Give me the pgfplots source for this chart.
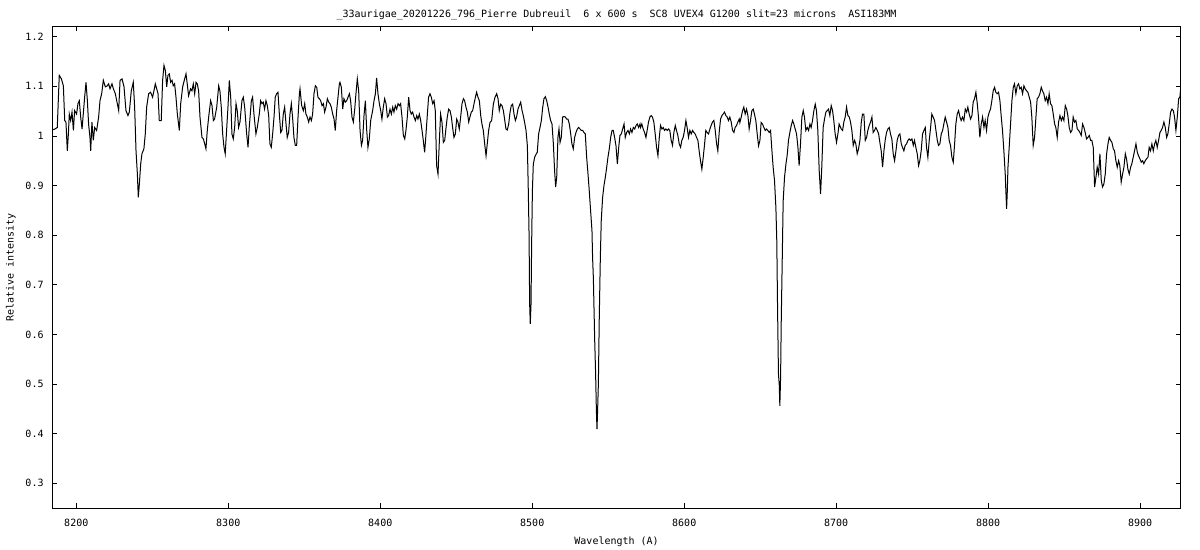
\documentclass[border=0pt]{standalone}
\usepackage{fontspec}
\setmainfont{DejaVu Sans Mono}
\usepackage{pgfplots}
\pgfplotsset{compat=1.18}
\newcommand{\gf}{\fontsize{7.5pt}{9pt}\selectfont}
\begin{document}
\begin{tikzpicture}
\useasboundingbox (-39.2pt,-31.3pt) rectangle (860.8pt,381.2pt);
\begin{axis}[
  at={(0,0)}, anchor=south west,
  scale only axis, width=846.5pt, height=361.2pt,
  xmin=8184.2, xmax=8926.8, ymin=0.2496, ymax=1.2202,
  axis line style={line width=0.75pt},
  tick style={line width=0.6pt, black},
  tick align=inside, major tick length=3.6pt,
  xtick={8200,8300,8400,8500,8600,8700,8800,8900},
  xticklabels={8200,8300,8400,8500,8600,8700,8800,8900},
  ytick={0.3,0.4,0.5,0.6,0.7,0.8,0.9,1,1.1,1.2},
  yticklabels={0.3,0.4,0.5,0.6,0.7,0.8,0.9,1,1.1,1.2},
  ticklabel style={font=\gf},
  xticklabel style={yshift=-4.5pt},
  yticklabel style={xshift=-3pt},
  minor tick num=0,
  title={\_33aurigae\_20201226\_796\_Pierre Dubreuil\ \ 6 x 600 s\ \ SC8 UVEX4 G1200 slit=23 microns\ \ ASI183MM},
  title style={font=\gf, at={(axis description cs:0.5,1.003)}, anchor=base},
  xlabel={Wavelength (A)},
  xlabel style={font=\gf, at={(axis description cs:0.5,-0.0762)}, anchor=base},
  ylabel={Relative intensity},
  ylabel style={font=\gf, at={(axis description cs:-0.0366,0.5)}, anchor=center, rotate=0},
]
\addplot[black, line width=0.75pt] coordinates {
(8184.2,1.012) (8186.0,1.014) (8187.5,1.017) (8188.8,1.122) (8190.2,1.115) (8191.5,1.101) (8192.4,1.031) (8193.2,1.028)
(8194.1,0.970) (8194.8,1.004) (8195.4,1.044) (8196.3,1.031) (8197.2,1.048) (8198.1,1.011) (8198.9,1.051) (8200.2,1.044)
(8201.1,1.065) (8202.0,1.071) (8202.9,1.038) (8203.8,1.014) (8204.6,1.044) (8205.5,1.078) (8206.4,1.108) (8207.3,1.071)
(8208.1,1.024) (8209.0,0.997) (8209.5,0.970) (8210.3,1.028) (8211.2,0.991) (8212.1,1.017) (8213.4,1.011) (8214.7,1.038)
(8215.6,1.071) (8216.7,1.085) (8217.8,1.112) (8219.1,1.099) (8220.4,1.101) (8221.3,1.105) (8222.2,1.095) (8223.5,1.105)
(8224.4,1.095) (8225.7,1.085) (8226.6,1.071) (8227.9,1.051) (8228.8,1.112) (8230.1,1.115) (8231.4,1.099) (8232.7,1.051)
(8234.0,1.041) (8234.9,1.048) (8236.2,1.091) (8237.5,1.108) (8238.4,1.058) (8239.3,0.970) (8240.2,0.923) (8240.8,0.876)
(8241.5,0.903) (8242.4,0.944) (8243.2,0.964) (8244.5,0.974) (8245.4,1.004) (8246.3,1.058) (8247.6,1.085) (8248.9,1.088)
(8250.2,1.078) (8251.1,1.091) (8252.0,1.105) (8252.9,1.095) (8253.8,1.085) (8254.6,1.031) (8255.9,1.031) (8256.8,1.112)
(8257.7,1.142) (8258.6,1.132) (8259.5,1.099) (8260.3,1.122) (8261.2,1.125) (8262.1,1.108) (8263.0,1.112) (8263.8,1.101)
(8264.7,1.105) (8265.6,1.078) (8266.5,1.044) (8267.8,1.011) (8268.7,1.065) (8270.0,1.099) (8271.3,1.115) (8272.2,1.125)
(8273.0,1.105) (8273.9,1.081) (8275.2,1.095) (8276.1,1.091) (8277.0,1.105) (8277.9,1.085) (8278.8,1.108) (8279.6,1.105)
(8280.5,1.091) (8281.4,1.038) (8282.7,0.997) (8283.6,0.994) (8284.5,0.984) (8285.3,0.974) (8286.2,1.011) (8287.1,1.038)
(8288.4,1.071) (8289.3,1.061) (8290.2,1.031) (8291.0,1.034) (8292.4,1.058) (8293.7,1.101) (8294.5,1.091) (8295.4,1.058)
(8296.3,1.004) (8297.2,0.977) (8298.0,0.964) (8298.9,1.011) (8299.8,1.058) (8300.7,1.112) (8301.6,1.078) (8302.4,1.004)
(8303.3,0.994) (8304.2,1.017) (8305.1,1.065) (8305.9,1.051) (8306.8,1.017) (8307.7,1.028) (8309.0,1.071) (8309.9,1.078)
(8310.8,1.058) (8312.1,1.004) (8313.0,0.977) (8313.8,1.017) (8315.2,1.071) (8316.0,1.078) (8316.9,1.044) (8318.2,1.004)
(8319.1,1.017) (8320.4,1.044) (8321.3,1.071) (8322.2,1.065) (8323.0,1.068) (8323.9,1.054) (8324.8,1.071) (8325.7,1.061)
(8326.6,1.041) (8327.4,0.984) (8328.3,0.977) (8329.2,1.004) (8330.1,1.038) (8330.9,1.078) (8331.8,1.085) (8332.7,1.088)
(8333.6,1.044) (8334.5,1.007) (8335.3,1.011) (8336.2,1.044) (8337.1,1.058) (8338.0,1.024) (8338.8,0.997) (8339.7,1.007)
(8340.6,1.044) (8341.5,1.065) (8342.4,1.034) (8343.2,0.997) (8344.1,0.981) (8345.0,0.981) (8345.9,1.038) (8346.8,1.085)
(8347.2,1.095) (8348.3,1.061) (8349.4,1.051) (8350.3,1.065) (8351.1,1.044) (8352.0,1.038) (8352.9,1.028) (8353.8,1.038)
(8354.7,1.031) (8355.5,1.044) (8356.4,1.085) (8357.3,1.101) (8358.2,1.098) (8359.0,1.078) (8359.9,1.075) (8360.8,1.071)
(8361.7,1.061) (8362.6,1.065) (8363.4,1.048) (8364.3,1.058) (8365.2,1.075) (8366.1,1.068) (8366.9,1.065) (8367.8,1.058)
(8368.7,1.044) (8369.6,1.034) (8370.4,1.011) (8371.3,1.051) (8372.2,1.078) (8373.1,1.105) (8373.5,1.108) (8374.4,1.098)
(8375.3,1.054) (8376.1,1.075) (8377.0,1.068) (8377.9,1.071) (8378.8,1.078) (8379.7,1.085) (8380.5,1.071) (8381.4,1.038)
(8382.3,1.028) (8383.2,1.054) (8384.0,1.085) (8384.9,1.115) (8385.8,1.091) (8386.7,1.011) (8387.6,0.981) (8388.4,0.991)
(8389.3,1.041) (8390.2,1.071) (8391.1,1.011) (8391.9,0.977) (8392.8,0.994) (8393.7,1.031) (8395.0,1.051) (8395.9,1.071)
(8396.8,1.085) (8397.6,1.117) (8398.5,1.085) (8399.4,1.065) (8400.3,1.051) (8401.1,1.034) (8402.0,1.058) (8402.9,1.075)
(8403.8,1.065) (8404.7,1.038) (8405.5,1.041) (8406.4,1.054) (8407.3,1.044) (8408.2,1.058) (8409.0,1.048) (8409.9,1.061)
(8410.8,1.054) (8411.7,1.065) (8412.6,1.061) (8413.4,1.065) (8414.3,1.038) (8415.2,1.001) (8416.1,0.994) (8416.9,1.011)
(8417.8,1.038) (8418.7,1.078) (8419.6,1.051) (8420.4,1.044) (8421.3,1.048) (8422.2,1.038) (8423.1,1.031) (8424.0,1.041)
(8424.8,1.034) (8425.7,1.044) (8426.6,1.031) (8427.5,1.011) (8428.3,0.991) (8429.2,0.967) (8430.1,1.004) (8431.0,1.044)
(8431.8,1.078) (8432.7,1.085) (8433.6,1.078) (8434.5,1.065) (8435.4,1.071) (8436.2,1.051) (8437.1,0.940) (8438.0,0.923)
(8438.9,0.991) (8439.7,1.044) (8440.6,1.028) (8441.5,0.987) (8442.4,0.991) (8443.3,1.017) (8444.1,1.038) (8445.0,1.054)
(8445.9,1.051) (8446.8,1.038) (8447.6,1.017) (8448.5,0.997) (8449.4,1.004) (8450.3,1.034) (8451.1,1.028) (8452.0,1.014)
(8452.9,1.038) (8453.8,1.065) (8454.7,1.075) (8455.5,1.071) (8456.4,1.058) (8457.3,1.048) (8458.2,1.028) (8459.0,1.038)
(8459.9,1.048) (8460.8,1.051) (8461.7,1.065) (8462.6,1.078) (8463.4,1.088) (8464.3,1.078) (8465.2,1.071) (8466.1,1.041)
(8466.9,1.024) (8467.8,1.011) (8468.7,0.984) (8469.6,0.960) (8470.4,0.984) (8471.3,1.011)
(8472.2,1.027) (8473.3,1.031) (8474.4,1.064) (8475.5,1.078) (8476.6,1.085) (8477.5,1.075) (8478.3,1.051) (8479.2,1.064)
(8480.1,1.061) (8481.0,1.051) (8481.8,1.034) (8482.7,1.014) (8483.6,1.012) (8484.5,1.024) (8485.4,1.048) (8486.2,1.061)
(8487.1,1.064) (8488.0,1.044) (8488.9,1.031) (8489.7,1.038) (8490.6,1.054) (8491.5,1.061) (8492.4,1.068) (8493.3,1.051)
(8494.1,1.041) (8495.0,1.027) (8495.9,1.011) (8496.8,0.980) (8497.4,0.890) (8497.9,0.802) (8498.3,0.661) (8498.7,0.621)
(8499.2,0.661) (8499.6,0.782) (8500.1,0.890) (8500.7,0.943) (8501.6,0.957) (8502.5,0.963) (8503.3,0.967) (8504.2,1.004)
(8505.1,1.017) (8506.0,1.031) (8506.9,1.058) (8507.7,1.075) (8508.6,1.079) (8509.5,1.071) (8510.4,1.058) (8511.2,1.044)
(8512.1,1.031) (8513.0,1.024) (8513.9,0.984) (8514.7,0.930) (8515.4,0.897) (8516.1,0.917) (8516.9,0.997) (8517.6,1.014)
(8518.3,0.987) (8519.1,0.997) (8520.0,1.038) (8520.9,1.039) (8521.8,1.038) (8522.6,1.034) (8523.5,1.034) (8524.4,1.024)
(8525.3,1.004) (8526.1,0.984) (8527.0,0.974) (8527.9,0.997) (8528.8,1.007) (8529.7,1.014) (8530.5,1.017) (8531.4,1.014)
(8532.3,1.011) (8533.2,1.011) (8534.0,1.007) (8534.9,1.004) (8535.8,0.957) (8536.7,0.923) (8537.5,0.890) (8538.4,0.849)
(8539.3,0.809) (8539.7,0.755) (8540.2,0.715) (8541.1,0.587) (8541.7,0.520) (8542.2,0.446) (8542.6,0.409) (8543.0,0.446)
(8543.5,0.500) (8544.1,0.634) (8544.8,0.755) (8545.4,0.829) (8546.3,0.876) (8547.2,0.900) (8548.1,0.917) (8549.0,0.937)
(8549.8,0.957) (8550.7,0.974) (8551.6,0.997) (8552.5,1.011) (8553.3,1.011) (8554.2,0.997) (8555.1,0.980) (8556.0,0.943)
(8556.9,0.977) (8557.7,1.001) (8558.6,1.004) (8559.5,1.014) (8560.4,1.024) (8561.2,0.997) (8562.1,1.007) (8563.0,1.011)
(8563.9,1.004) (8564.7,1.014) (8565.6,1.007) (8566.5,1.017) (8567.4,1.014) (8568.3,1.021) (8569.1,1.024) (8570.0,1.017)
(8570.9,1.024)
(8571.3,1.017) (8572.1,1.024) (8573.0,1.014) (8573.9,1.007) (8574.8,0.997) (8575.6,1.011) (8576.5,1.028) (8577.4,1.038)
(8578.3,1.041) (8579.1,1.038) (8580.0,1.028) (8580.9,1.004) (8581.8,0.977) (8582.7,0.960) (8583.5,0.994) (8584.4,1.021)
(8585.3,1.014) (8586.2,1.017) (8587.0,1.011) (8587.9,1.014) (8588.8,1.011) (8589.7,1.014) (8590.5,1.011) (8591.4,0.991)
(8592.3,0.981) (8593.2,1.007) (8594.1,1.021) (8594.9,1.011) (8595.8,1.001) (8596.7,0.984) (8597.6,0.977) (8598.4,0.991)
(8599.3,0.997) (8600.2,1.011) (8601.1,1.031) (8601.9,1.017) (8602.8,0.997) (8603.7,1.011) (8604.6,1.004) (8605.5,1.011)
(8606.3,1.007) (8607.2,1.004) (8608.1,0.997) (8609.0,0.991) (8609.8,0.970) (8610.7,0.950) (8611.6,0.933) (8612.5,0.957)
(8613.4,0.984) (8614.2,1.011) (8615.1,1.007) (8616.0,1.004) (8616.9,1.014) (8617.7,1.021) (8618.6,1.028) (8619.5,1.031)
(8620.4,1.011) (8621.3,0.984) (8622.1,0.970) (8623.0,1.007) (8623.9,1.034) (8624.8,1.041) (8625.6,1.044) (8626.5,1.048)
(8627.4,1.041) (8628.3,1.038) (8629.1,1.031) (8630.0,1.038) (8630.9,1.028) (8631.8,1.011) (8632.7,1.007) (8633.5,1.017)
(8634.4,1.021) (8635.3,1.028) (8636.2,1.034)
(8636.6,1.027) (8637.5,1.038) (8638.4,1.051) (8639.2,1.058) (8640.1,1.044) (8641.0,1.054) (8641.9,1.041) (8642.7,1.014)
(8643.6,1.031) (8644.5,1.051) (8645.4,1.054) (8646.2,1.044) (8647.1,1.031) (8648.0,1.004) (8648.9,0.980) (8649.8,0.991)
(8650.6,1.027) (8651.5,1.024) (8652.4,1.017) (8653.3,1.011) (8654.1,1.014) (8655.0,1.011) (8655.9,1.007) (8656.8,1.011)
(8657.7,0.970) (8658.5,0.937) (8659.4,0.910) (8660.3,0.856) (8660.9,0.788) (8661.4,0.654) (8662.0,0.520) (8662.5,0.500)
(8662.9,0.456) (8663.4,0.513) (8663.8,0.621) (8664.5,0.755) (8665.1,0.869) (8666.0,0.917) (8666.9,0.943) (8667.7,0.960)
(8668.6,0.991) (8669.5,1.007) (8670.4,1.021) (8671.3,1.031) (8672.1,1.024) (8673.0,1.014) (8673.9,1.004) (8674.8,0.977)
(8675.6,0.940) (8676.5,0.984) (8677.4,1.038) (8678.3,1.051) (8679.1,1.038) (8680.0,1.011) (8680.9,1.017) (8681.8,1.011)
(8682.7,1.024) (8683.5,1.017) (8684.4,1.031) (8685.3,1.051) (8686.2,1.064) (8687.0,1.051) (8687.9,1.011) (8688.8,0.930)
(8689.7,0.883) (8690.5,0.937) (8691.4,1.017) (8692.3,1.034) (8693.2,1.048) (8694.1,1.051) (8694.9,1.054) (8695.8,1.041)
(8696.7,1.061) (8697.6,1.051) (8698.4,1.031) (8699.3,1.004) (8700.2,0.987) (8701.1,1.004) (8701.9,1.024)
(8703.3,1.014) (8704.2,1.011) (8705.0,1.028) (8705.9,1.038) (8706.8,1.058) (8707.7,1.041) (8708.6,1.038) (8709.4,1.028)
(8710.3,1.011) (8711.2,0.981) (8712.1,0.991) (8712.9,0.984) (8713.8,0.964) (8714.7,0.974) (8715.6,0.991) (8716.5,1.028)
(8717.3,1.044) (8718.2,1.044) (8719.1,0.991) (8720.0,0.997) (8720.8,1.011) (8721.7,1.021) (8722.6,1.028) (8723.5,1.038)
(8724.3,1.007) (8725.2,1.011) (8726.1,1.017) (8727.0,1.011) (8727.9,1.004) (8728.7,0.987) (8729.6,0.970) (8730.5,0.937)
(8731.4,0.970) (8732.2,0.991) (8733.1,1.007) (8734.0,1.014) (8734.9,1.017) (8735.7,1.004) (8736.6,0.994) (8737.5,0.964)
(8738.4,0.950) (8739.3,0.970) (8740.1,0.991) (8741.0,1.001) (8741.9,1.004) (8742.8,0.984) (8743.6,0.977) (8744.5,0.970)
(8745.4,0.981) (8746.3,0.984) (8747.2,0.991) (8748.0,0.994) (8748.9,0.991) (8749.8,0.994) (8750.7,0.981) (8751.5,0.991)
(8752.4,0.977) (8753.3,0.964) (8754.2,0.940) (8755.0,0.950) (8755.9,0.970) (8756.8,1.004) (8757.7,1.011) (8758.6,1.017)
(8759.4,0.977) (8760.3,0.957) (8761.2,0.991) (8762.1,1.017) (8762.9,1.044) (8763.8,1.038) (8764.7,1.031) (8765.6,1.011)
(8766.5,0.991) (8767.3,0.981) (8768.2,0.984) (8769.1,1.004) (8770.0,1.011) (8770.8,1.024) (8771.7,1.038) (8772.6,1.028)
(8773.5,1.017) (8774.3,0.991) (8775.2,0.981) (8776.1,0.957) (8777.0,0.947) (8777.9,0.984) (8778.7,1.024) (8779.6,1.044)
(8780.5,1.051) (8781.4,1.038) (8782.2,1.031) (8783.1,1.038) (8784.0,1.031) (8784.9,1.054) (8785.8,1.048) (8786.6,1.058)
(8787.5,1.044) (8788.4,1.034) (8789.3,1.041) (8790.1,1.068) (8791.0,1.075) (8791.9,1.088) (8792.8,1.065) (8793.6,1.038)
(8794.5,0.997) (8795.4,1.024) (8796.3,1.038) (8797.2,1.017) (8798.0,1.031) (8798.9,1.011) (8799.8,1.038) (8800.7,1.048)
(8801.5,1.054) (8802.4,1.071) (8803.3,1.091) (8804.2,1.098) (8805.0,1.088) (8805.9,1.085) (8806.8,1.088) (8807.7,1.071)
(8808.6,1.038) (8809.4,1.011) (8810.3,0.970) (8811.2,0.923) (8811.6,0.890) (8812.1,0.853) (8812.5,0.883) (8813.0,0.937)
(8813.8,0.977) (8814.7,1.024) (8815.6,1.071) (8816.5,1.098) (8817.3,1.105) (8818.2,1.085) (8819.1,1.101) (8820.0,1.105)
(8820.8,1.095) (8821.7,1.098) (8822.6,1.085) (8823.5,1.101) (8824.3,1.095) (8825.2,1.091) (8826.1,1.088) (8827.0,1.078)
(8827.9,1.068) (8828.7,1.038) (8829.6,0.981) (8830.5,0.997) (8831.4,1.038) (8832.2,1.075) (8833.1,1.078) (8834.0,1.085)
(8834.9,1.098) (8835.7,1.091) (8836.6,1.085) (8837.5,1.071) (8838.4,1.078) (8839.3,1.065) (8840.1,1.085)
(8841.0,1.065) (8841.9,1.061) (8842.8,1.044) (8843.7,1.024) (8844.5,1.017) (8845.4,0.997) (8846.3,1.028) (8847.2,1.041)
(8848.1,1.031) (8848.9,1.038) (8849.8,1.031) (8850.7,1.061) (8851.6,1.054) (8852.4,1.041) (8853.3,1.017) (8854.2,1.007)
(8855.1,1.011) (8855.9,1.038) (8856.8,1.028) (8857.7,1.031) (8858.6,1.014) (8859.5,1.011) (8860.3,1.007) (8861.2,1.001)
(8862.1,1.024) (8863.0,1.017) (8863.8,1.007) (8864.7,0.994) (8865.6,0.997) (8866.5,1.001) (8867.4,0.991) (8868.2,0.991)
(8869.1,0.977) (8870.0,0.897) (8870.9,0.917) (8871.7,0.937) (8872.6,0.923) (8873.5,0.964) (8874.4,0.910) (8875.2,0.897)
(8876.1,0.903) (8877.0,0.923) (8877.9,0.964) (8878.8,0.984) (8879.6,0.997) (8880.5,0.991) (8881.4,0.987) (8882.3,0.974)
(8883.1,0.970) (8884.0,0.950) (8884.9,0.937) (8885.8,0.950) (8886.6,0.940) (8887.5,0.907) (8888.4,0.923) (8889.3,0.937)
(8890.2,0.964) (8891.0,0.954) (8891.9,0.933) (8892.8,0.923) (8893.7,0.937) (8894.5,0.944) (8895.4,0.957) (8896.3,0.970)
(8897.2,0.984) (8898.1,0.967) (8898.9,0.960) (8899.8,0.954) (8900.7,0.947) (8901.6,0.950) (8902.4,0.944) (8903.3,0.950)
(8904.2,0.954) (8905.1,0.957) (8905.9,0.977) (8906.8,0.970) (8907.7,0.984) (8908.6,0.970) (8909.5,0.984) (8910.3,0.991)
(8911.2,0.977) (8912.1,0.991) (8913.0,1.007) (8913.8,1.011) (8914.7,1.017) (8915.6,1.028) (8916.5,1.017) (8917.4,0.997)
(8918.2,1.004) (8919.1,1.024) (8920.0,1.048) (8920.9,1.054) (8921.8,1.051) (8922.6,1.038) (8923.5,1.011) (8924.4,1.038)
(8925.3,1.075) (8926.1,1.078) (8926.8,1.101)
};
\end{axis}
\end{tikzpicture}
\end{document}
